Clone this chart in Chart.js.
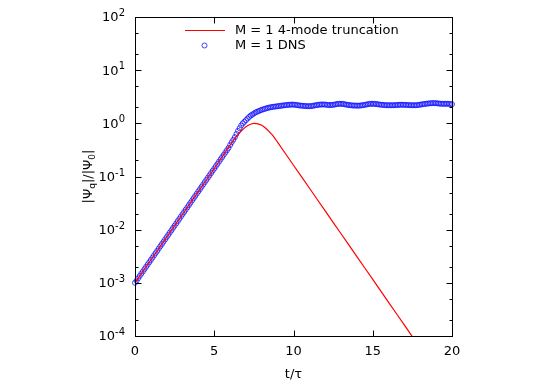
<!DOCTYPE html>
<html>
<head>
<meta charset="utf-8">
<script src="https://cdn.jsdelivr.net/npm/chart.js@4/dist/chart.umd.min.js"></script>
<style>
html,body{margin:0;padding:0;background:#fff;}
#wrap{width:545px;height:382px;position:relative;}
</style>
</head>
<body>
<div id="wrap"><canvas id="c"></canvas></div>
<script>
// ---- data ----
const redT = [0,1,2,3,4,5,6,6.5,6.75,7,7.25,7.5,7.75,8,8.25,8.5,8.75,9,10,11,12,13,14,15,16,17,17.5];
const redValues = [0.001,0.00269,0.00724,0.0195,0.0525,0.141,0.39,0.62,0.74,0.86,0.95,1.0,0.98,0.92,0.81,0.68,0.565,0.44,0.163,0.0607,0.0225,0.00837,0.00311,0.00116,0.00043,0.00016,0.000097];

const dnsT = [
0.0,0.1,0.2,0.3,0.4,0.5,0.6,0.7,0.8,0.9,
1.0,1.1,1.2,1.3,1.4,1.5,1.6,1.7,1.8,1.9,
2.0,2.1,2.2,2.3,2.4,2.5,2.6,2.7,2.8,2.9,
3.0,3.1,3.2,3.3,3.4,3.5,3.6,3.7,3.8,3.9,
4.0,4.1,4.2,4.3,4.4,4.5,4.6,4.7,4.8,4.9,
5.0,5.1,5.2,5.3,5.4,5.5,5.6,5.7,5.8,5.9,
6.0,6.1,6.2,6.3,6.4,6.5,6.6,6.7,6.8,6.9,
7.0,7.1,7.2,7.3,7.4,7.5,7.6,7.7,7.8,7.9,
8.0,8.1,8.2,8.3,8.4,8.5,8.6,8.7,8.8,8.9,
9.0,9.1,9.2,9.3,9.4,9.5,9.6,9.7,9.8,9.9,
10.0,10.1,10.2,10.3,10.4,10.5,10.6,10.7,10.8,10.9,
11.0,11.1,11.2,11.3,11.4,11.5,11.6,11.7,11.8,11.9,
12.0,12.1,12.2,12.3,12.4,12.5,12.6,12.7,12.8,12.9,
13.0,13.1,13.2,13.3,13.4,13.5,13.6,13.7,13.8,13.9,
14.0,14.1,14.2,14.3,14.4,14.5,14.6,14.7,14.8,14.9,
15.0,15.1,15.2,15.3,15.4,15.5,15.6,15.7,15.8,15.9,
16.0,16.1,16.2,16.3,16.4,16.5,16.6,16.7,16.8,16.9,
17.0,17.1,17.2,17.3,17.4,17.5,17.6,17.7,17.8,17.9,
18.0,18.1,18.2,18.3,18.4,18.5,18.6,18.7,18.8,18.9,
19.0,19.1,19.2,19.3,19.4,19.5,19.6,19.7,19.8,19.9,
20.0];
const dnsValues = [
0.00100,0.00110,0.00122,0.00135,0.00149,0.00164,0.00181,0.00200,0.00221,0.00244,
0.00269,0.00297,0.00328,0.00362,0.00400,0.00442,0.00488,0.00538,0.00594,0.00656,
0.00724,0.00800,0.00883,0.00975,0.0108,0.0119,0.0131,0.0145,0.0160,0.0177,
0.0195,0.0215,0.0238,0.0262,0.0290,0.0320,0.0353,0.0390,0.0431,0.0475,
0.0525,0.0579,0.0640,0.0706,0.0780,0.0861,0.0951,0.105,0.116,0.128,
0.141,0.156,0.172,0.190,0.210,0.232,0.256,0.282,0.312,0.344,
0.39,0.44,0.49,0.55,0.63,0.72,0.81,0.91,1.00,1.07,
1.15,1.23,1.32,1.40,1.46,1.53,1.60,1.65,1.70,1.75,
1.80,1.84,1.88,1.92,1.96,1.99,2.02,2.04,2.06,2.08,
2.10,2.12,2.14,2.16,2.18,2.20,2.21,2.23,2.24,2.25,
2.25,2.23,2.21,2.19,2.16,2.15,2.14,2.12,2.11,2.10,
2.10,2.11,2.13,2.16,2.19,2.21,2.24,2.25,2.26,2.26,
2.25,2.23,2.21,2.21,2.21,2.23,2.26,2.29,2.32,2.33,
2.33,2.32,2.29,2.26,2.23,2.21,2.19,2.17,2.16,2.16,
2.15,2.15,2.16,2.18,2.20,2.23,2.26,2.29,2.32,2.33,
2.33,2.32,2.31,2.29,2.26,2.24,2.23,2.21,2.20,2.19,
2.19,2.19,2.19,2.19,2.20,2.21,2.22,2.23,2.24,2.23,
2.23,2.22,2.21,2.20,2.19,2.19,2.19,2.19,2.20,2.22,
2.25,2.27,2.30,2.32,2.34,2.36,2.38,2.39,2.40,2.40,
2.39,2.37,2.35,2.34,2.33,2.33,2.33,2.33,2.32,2.31,
2.29];

const xTicks = [0,5,10,15,20];
const yDecades = [-4,-3,-2,-1,0,1,2];
const yMinor = [2,5];
const seriesLabels = ['M = 1 4-mode truncation','M = 1 DNS'];
const xTitle = 't/\u03C4';

const FONT = '"DejaVu Sans", sans-serif';
const RED = 'rgb(255,0,0)';
const BLUE = 'rgba(20,20,255,0.8)';

const framePlugin = {
  id: 'frame',
  afterDatasetsDraw(chart) {
    const ctx = chart.ctx;
    const a = chart.chartArea;
    const xs = chart.scales.x, ys = chart.scales.y;
    ctx.save();
    ctx.strokeStyle = '#000';
    ctx.lineWidth = 1;
    const L = Math.round(a.left)+0.5, R = Math.round(a.right)+0.5, T = Math.round(a.top)+0.5, B = Math.round(a.bottom)+0.5;
    ctx.strokeRect(L, T, R-L, B-T);
    ctx.beginPath();
    xTicks.forEach(v => {
      const px = Math.round(xs.getPixelForValue(v))+0.5;
      ctx.moveTo(px, B); ctx.lineTo(px, B-6);
      ctx.moveTo(px, T); ctx.lineTo(px, T+6);
    });
    yDecades.forEach(d => {
      const py = Math.round(ys.getPixelForValue(Math.pow(10,d)))+0.5;
      ctx.moveTo(L, py); ctx.lineTo(L+6, py);
      ctx.moveTo(R, py); ctx.lineTo(R-6, py);
      if (d < 2) {
        yMinor.forEach(m => {
          const pm = Math.round(ys.getPixelForValue(m*Math.pow(10,d)))+0.5;
          ctx.moveTo(L, pm); ctx.lineTo(L+3, pm);
          ctx.moveTo(R, pm); ctx.lineTo(R-3, pm);
        });
      }
    });
    ctx.stroke();

    // y tick labels 10^d
    ctx.fillStyle = '#000';
    yDecades.forEach(d => {
      const py = ys.getPixelForValue(Math.pow(10,d));
      const exp = String(d);
      ctx.font = '10px ' + FONT;
      const ew = ctx.measureText(exp).width;
      ctx.textAlign = 'right';
      ctx.textBaseline = 'alphabetic';
      ctx.fillText(exp, 125, py - 1);
      ctx.font = '13px ' + FONT;
      ctx.textBaseline = 'middle';
      ctx.fillText('10', 125 - ew, py + 1);
    });

    // x title
    ctx.font = '13px ' + FONT;
    ctx.textAlign = 'center';
    ctx.textBaseline = 'middle';
    ctx.fillText(xTitle, (a.left + a.right)/2, 375);

    // y title |Ψq|/|Ψ0| rotated
    ctx.save();
    ctx.translate(88, (a.top + a.bottom)/2);
    ctx.rotate(-Math.PI/2);
    const parts = [['|\u03A8',0],['q',1],['|/|\u03A8',0],['0',1],['|',0]];
    let total = 0;
    parts.forEach(p => { ctx.font = (p[1]? '9px ':'13px ') + FONT; total += ctx.measureText(p[0]).width; });
    let x0 = -total/2;
    ctx.textAlign = 'left';
    ctx.textBaseline = 'alphabetic';
    parts.forEach(p => {
      ctx.font = (p[1]? '9px ':'13px ') + FONT;
      ctx.fillText(p[0], x0, p[1] ? 7 : 4);
      x0 += ctx.measureText(p[0]).width;
    });
    ctx.restore();

    // legend
    ctx.font = '13px ' + FONT;
    ctx.textAlign = 'left';
    ctx.textBaseline = 'middle';
    ctx.strokeStyle = RED;
    ctx.beginPath();
    ctx.moveTo(185, 30.5); ctx.lineTo(225, 30.5);
    ctx.stroke();
    ctx.fillStyle = '#000';
    ctx.fillText(seriesLabels[0], 235, 31);
    ctx.strokeStyle = BLUE;
    ctx.beginPath();
    ctx.arc(204.5, 45.5, 2.5, 0, Math.PI*2);
    ctx.stroke();
    ctx.fillText(seriesLabels[1], 235, 46);
    ctx.restore();
  }
};

const chart = new Chart(document.getElementById('c'), {
  type: 'scatter',
  data: {
    datasets: [
      {
        label: seriesLabels[0],
        data: redT.map((t,i) => ({x:t, y:redValues[i]})),
        showLine: true,
        borderColor: RED,
        borderWidth: 1.2,
        pointRadius: 0,
        tension: 0.2
      },
      {
        label: seriesLabels[1],
        data: dnsT.map((t,i) => ({x:t, y:dnsValues[i]})),
        showLine: false,
        borderColor: BLUE,
        backgroundColor: 'rgba(0,0,0,0)',
        pointRadius: 2.5,
        pointBorderWidth: 1,
        pointStyle: 'circle',
        clip: false
      }
    ]
  },
  options: {
    responsive: true,
    maintainAspectRatio: false,
    animation: false,
    events: [],
    layout: { padding: { left: 0, right: 93, top: 17, bottom: 0 } },
    plugins: { legend: { display: false }, tooltip: { enabled: false } },
    scales: {
      x: {
        type: 'linear', min: 0, max: 20,
        afterFit(s) { s.height = 46; },
        afterBuildTicks(s) { s.ticks = xTicks.map(v => ({value: v})); },
        grid: { display: false, drawTicks: false },
        border: { display: false },
        ticks: { color: '#000', font: { family: FONT, size: 13 }, padding: 8, maxRotation: 0 }
      },
      y: {
        type: 'logarithmic', min: 1e-4, max: 1e2,
        afterFit(s) { s.width = 135; },
        grid: { display: false, drawTicks: false },
        border: { display: false },
        ticks: { display: false }
      }
    }
  },
  plugins: [framePlugin]
});
</script>
</body>
</html>
